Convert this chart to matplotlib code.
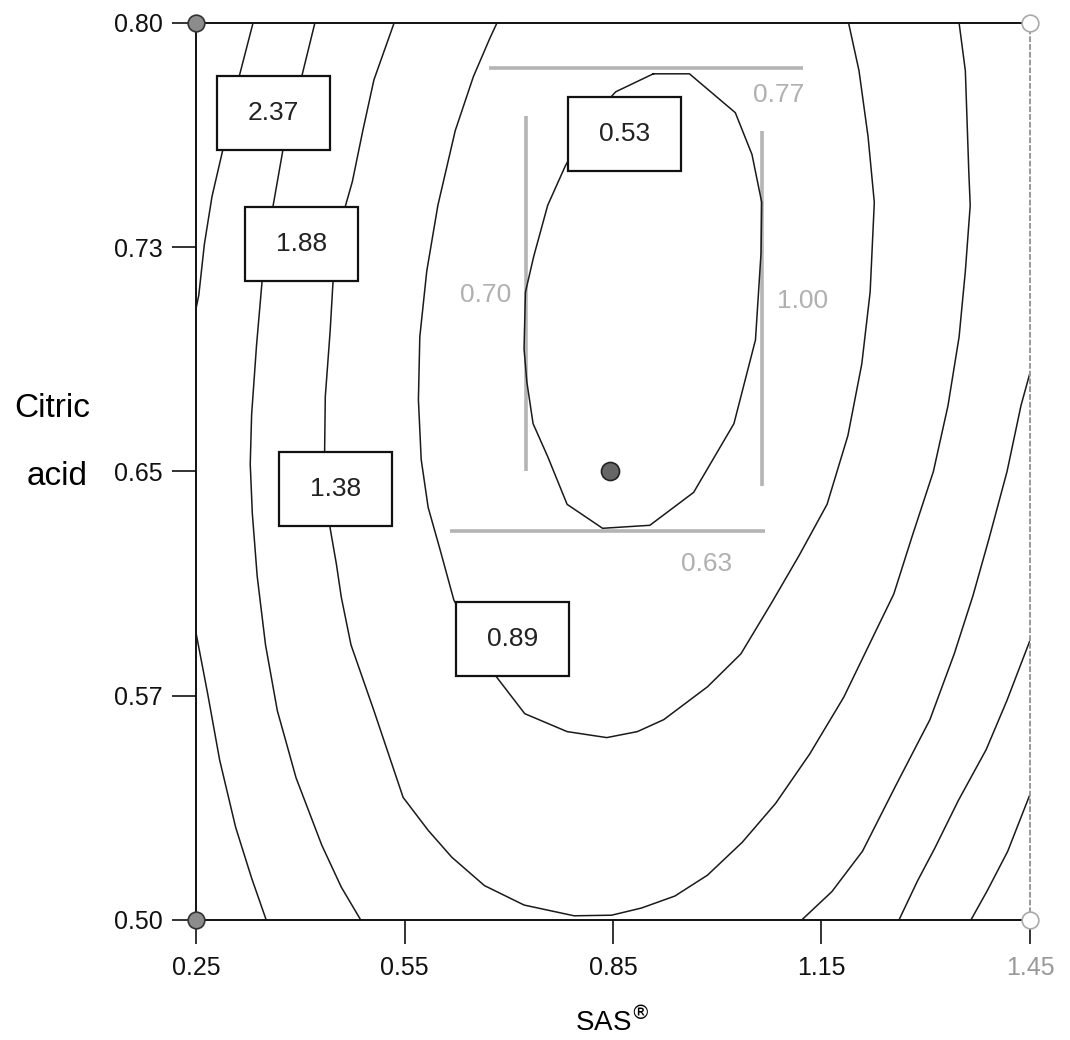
import matplotlib
matplotlib.use('Agg')
import matplotlib.pyplot as plt
from matplotlib.patches import Rectangle

plt.rcParams['font.family'] = ['Liberation Sans', 'DejaVu Sans']

# ---------------------------------------------------------------
# data (SAS on x, citric acid on y)
# ---------------------------------------------------------------
x_ticks = [0.25, 0.55, 0.85, 1.15, 1.45]
x_tick_labels = ['0.25', '0.55', '0.85', '1.15', '1.45']
y_ticks = [0.80, 0.725, 0.65, 0.575, 0.50]
y_tick_labels = ['0.80', '0.73', '0.65', '0.57', '0.50']

# contour 0.53 (closed)
c053_x = [0.908, 0.960, 1.026, 1.050, 1.064, 1.063, 1.055, 1.024, 0.966, 0.903, 0.835, 0.784,
          0.756, 0.735, 0.726, 0.722, 0.724, 0.736, 0.756, 0.781, 0.818, 0.854, 0.908]
c053_y = [0.783, 0.783, 0.770, 0.756, 0.740, 0.723, 0.694, 0.666, 0.643, 0.632, 0.631, 0.639,
          0.655, 0.666, 0.680, 0.691, 0.710, 0.722, 0.739, 0.752, 0.768, 0.777, 0.783]

# contour 0.89
c089_x = [0.683, 0.673, 0.649, 0.623, 0.598, 0.582, 0.572, 0.570, 0.574, 0.584, 0.601, 0.621,
          0.650, 0.680, 0.723, 0.784, 0.841, 0.885, 0.923, 0.986, 1.034, 1.078, 1.118, 1.158,
          1.188, 1.208, 1.220, 1.226, 1.217, 1.204, 1.189]
c089_y = [0.800, 0.795, 0.782, 0.764, 0.739, 0.717, 0.695, 0.674, 0.654, 0.638, 0.624, 0.607,
          0.594, 0.582, 0.569, 0.563, 0.561, 0.563, 0.567, 0.578, 0.589, 0.606, 0.622, 0.639,
          0.662, 0.686, 0.710, 0.740, 0.762, 0.784, 0.800]

# contour 1.38
c138_x = [0.535, 0.506, 0.490, 0.475, 0.464, 0.447, 0.443, 0.436, 0.435, 0.438, 0.443, 0.452,
          0.459, 0.473, 0.506, 0.548, 0.584, 0.618, 0.665, 0.722, 0.794, 0.848, 0.891, 0.939,
          0.986, 1.036, 1.084, 1.133, 1.182, 1.231, 1.254, 1.280, 1.311, 1.332, 1.348, 1.357,
          1.364, 1.362, 1.357, 1.348]
c138_y = [0.800, 0.781, 0.764, 0.747, 0.738, 0.713, 0.697, 0.675, 0.656, 0.645, 0.631, 0.619,
          0.608, 0.592, 0.570, 0.541, 0.530, 0.521, 0.5115, 0.505, 0.5014, 0.5016, 0.504, 0.508,
          0.515, 0.526, 0.539, 0.5555, 0.5745, 0.598, 0.609, 0.628, 0.650, 0.672, 0.695, 0.717,
          0.739, 0.750, 0.784, 0.800]

# contour 1.88 (left and right branches)
c188a_x = [0.421, 0.402, 0.375, 0.361, 0.345, 0.337, 0.330, 0.328, 0.331, 0.338, 0.350, 0.367,
           0.394, 0.431, 0.459, 0.487]
c188a_y = [0.800, 0.782, 0.7575, 0.739, 0.7135, 0.692, 0.669, 0.6525, 0.636, 0.615, 0.592, 0.570,
           0.5475, 0.525, 0.511, 0.500]
c188b_x = [1.450, 1.437, 1.417, 1.391, 1.368, 1.341, 1.306, 1.257, 1.209, 1.165, 1.1215]
c188b_y = [0.683, 0.672, 0.650, 0.6275, 0.6085, 0.589, 0.567, 0.545, 0.523, 0.5095, 0.500]

# contour 2.37 (three pieces)
c237a_x = [0.332, 0.312, 0.289, 0.273, 0.262, 0.254, 0.250]
c237a_y = [0.800, 0.782, 0.758, 0.742, 0.726, 0.709, 0.7045]
c237b_x = [0.250, 0.2665, 0.284, 0.307, 0.330, 0.351]
c237b_y = [0.596, 0.576, 0.5535, 0.531, 0.514, 0.500]
c237c_x = [1.450, 1.417, 1.387, 1.347, 1.313, 1.288, 1.2615]
c237c_y = [0.5935, 0.5735, 0.557, 0.540, 0.524, 0.513, 0.500]

# next level, lower right corner only
c286_x = [1.450, 1.418, 1.389, 1.365]
c286_y = [0.542, 0.523, 0.510, 0.500]

contours = [(c053_x, c053_y), (c089_x, c089_y), (c138_x, c138_y),
            (c188a_x, c188a_y), (c188b_x, c188b_y),
            (c237a_x, c237a_y), (c237b_x, c237b_y), (c237c_x, c237c_y),
            (c286_x, c286_y)]

# boxed contour labels
box_labels = ['2.37', '1.88', '1.38', '0.89', '0.53']
box_x = [0.361, 0.402, 0.451, 0.705, 0.866]
box_y = [0.770, 0.726, 0.644, 0.594, 0.763]

# grey limit lines and their values
lim_h_y = [0.785, 0.630]
lim_h_x0 = [0.671, 0.615]
lim_h_x1 = [1.123, 1.068]
lim_v_x = [0.725, 1.065]
lim_v_y0 = [0.650, 0.645]
lim_v_y1 = [0.769, 0.764]
lim_labels = ['0.77', '0.63', '0.70', '1.00']
lim_label_x = [1.088, 0.984, 0.666, 1.123]
lim_label_y = [0.776, 0.619, 0.709, 0.707]

# design points
corner_fill_x = [0.25, 0.25]
corner_fill_y = [0.80, 0.50]
corner_open_x = [1.45, 1.45]
corner_open_y = [0.80, 0.50]
centre_x = [0.845]
centre_y = [0.650]

# ---------------------------------------------------------------
fig = plt.figure(figsize=(10.7, 10.4), dpi=100)
ax = fig.add_axes([0.1832, 0.1154, 0.7794, 0.8625])

for cx, cy in contours:
    ax.plot(cx, cy, color='#1a1a1a', lw=1.1, zorder=2, solid_joinstyle='round')

for y, x0, x1 in zip(lim_h_y, lim_h_x0, lim_h_x1):
    ax.plot([x0, x1], [y, y], color='#b4b4b4', lw=2.6, zorder=1, solid_capstyle='butt')
for x, y0, y1 in zip(lim_v_x, lim_v_y0, lim_v_y1):
    ax.plot([x, x], [y0, y1], color='#b4b4b4', lw=2.6, zorder=1, solid_capstyle='butt')
for t, x, y in zip(lim_labels, lim_label_x, lim_label_y):
    ax.text(x, y, t, color='#b0b0b0', fontsize=19, ha='center', va='center')

bw, bh = 0.1626, 0.0248
for t, x, y in zip(box_labels, box_x, box_y):
    ax.add_patch(Rectangle((x - bw / 2, y - bh / 2), bw, bh, fc='white', ec='#111111',
                           lw=1.6, zorder=4))
    ax.text(x, y, t, fontsize=19, ha='center', va='center', color='#222222', zorder=5)

ax.plot(corner_fill_x, corner_fill_y, 'o', ms=12, mfc='#8c8c8c', mec='#333333', mew=1.2,
        clip_on=False, zorder=6)
ax.plot(corner_open_x, corner_open_y, 'o', ms=12, mfc='white', mec='#aaaaaa', mew=1.2,
        clip_on=False, zorder=6)
ax.plot(centre_x, centre_y, 'o', ms=13, mfc='#666666', mec='#222222', mew=1.2, zorder=6)

ax.set_xlim(0.25, 1.45)
ax.set_ylim(0.50, 0.80)
ax.set_xticks(x_ticks)
ax.set_xticklabels(x_tick_labels)
ax.set_yticks(y_ticks)
ax.set_yticklabels(y_tick_labels)
ax.tick_params(direction='out', length=17, width=1.2, labelsize=18, colors='#111111')
ax.tick_params(axis='x', pad=9)
ax.tick_params(axis='y', pad=7)

last = ax.xaxis.get_major_ticks()[-1]
last.tick1line.set_color('#aaaaaa')
last.label1.set_color('#999999')

for s in ['left', 'top', 'bottom']:
    ax.spines[s].set_linewidth(1.4)
    ax.spines[s].set_color('#111111')
ax.spines['right'].set_linestyle((0, (2, 2)))
ax.spines['right'].set_color('#999999')
ax.spines['right'].set_linewidth(1.4)

fig.text(612 / 1070, 1 - 1022 / 1040, 'SAS$^{\\circledR}$', fontsize=20, ha='center', va='center')
fig.text(52 / 1070, 1 - 417 / 1040, 'Citric', fontsize=24, ha='center', va='baseline')
fig.text(57 / 1070, 1 - 485 / 1040, 'acid', fontsize=24, ha='center', va='baseline')

fig.savefig('out.png', dpi=100)
